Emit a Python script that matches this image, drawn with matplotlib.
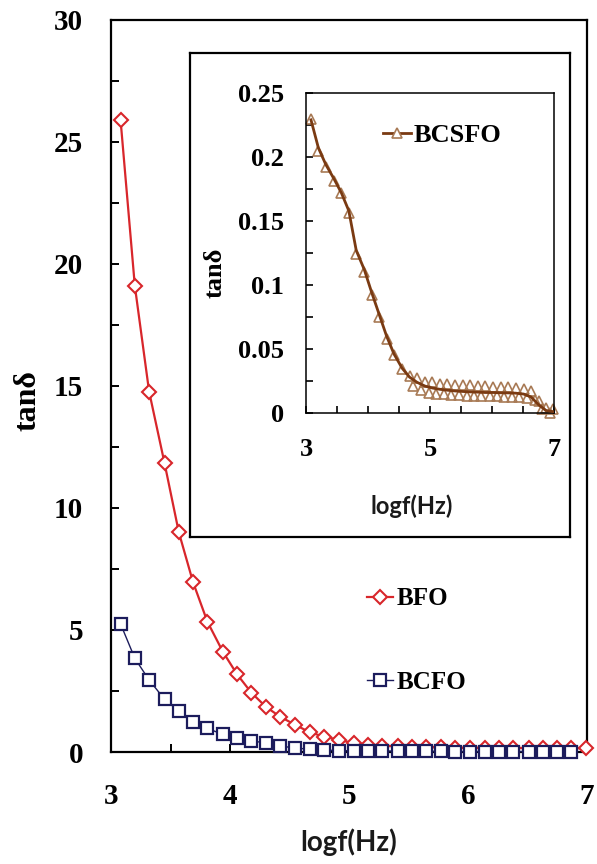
import matplotlib
matplotlib.use("Agg")
import matplotlib.pyplot as plt
from matplotlib.lines import Line2D
from matplotlib.ticker import MultipleLocator, FixedLocator, FuncFormatter

plt.rcParams['font.family'] = ['Liberation Serif', 'DejaVu Serif']
plt.rcParams['font.weight'] = 'bold'

# ---- data -------------------------------------------------------------
logf = [3.08, 3.20, 3.32, 3.45, 3.57, 3.69, 3.81, 3.94, 4.06, 4.18, 4.30,
        4.42, 4.55, 4.67, 4.79, 4.92, 5.04, 5.16, 5.28, 5.41, 5.53, 5.65,
        5.77, 5.89, 6.02, 6.14, 6.26, 6.38, 6.51, 6.63, 6.75, 6.87, 6.99]

tan_bfo = [25.9, 19.1, 14.77, 11.83, 9.0, 6.95, 5.34, 4.11, 3.18, 2.43, 1.86,
           1.45, 1.11, 0.81, 0.63, 0.50, 0.36, 0.30, 0.26, 0.23, 0.21, 0.20,
           0.19, 0.18, 0.18, 0.17, 0.17, 0.17, 0.16, 0.16, 0.16, 0.16, 0.16]

tan_bcfo = [5.25, 3.84, 2.95, 2.16, 1.68, 1.24, 0.97, 0.72, 0.56, 0.45, 0.38,
            0.25, 0.16, 0.12, 0.08, 0.06, 0.05, 0.05, 0.04, 0.04, 0.03, 0.03,
            0.03, 0.02, 0.02, 0.02, 0.02, 0.02, 0.02, 0.02, 0.02, 0.02]

# BCSFO: smoothed curve and measured points
tan_bcsfo_curve = [0.229, 0.207, 0.194, 0.183, 0.172, 0.158, 0.127, 0.112,
                   0.094, 0.077, 0.060, 0.046, 0.035, 0.028, 0.024, 0.021,
                   0.0195, 0.0185, 0.0178, 0.0172, 0.0168, 0.0165, 0.0163,
                   0.016, 0.016, 0.0158, 0.0157, 0.0155, 0.0148, 0.0125,
                   0.0065, 0.002, 0.001]

bcsfo_x = [3.08, 3.20, 3.32, 3.45, 3.57, 3.69, 3.81, 3.94, 4.06, 4.18, 4.30,
           4.42, 4.55, 4.67, 4.79, 4.92, 5.04, 5.16, 5.28, 5.41, 5.53, 5.65,
           5.77, 5.89, 6.02, 6.14, 6.26, 6.38, 6.51, 6.63, 6.75, 6.87, 6.99,
           4.73, 4.86, 4.98, 5.10, 5.22, 5.34, 5.47, 5.59, 5.71, 5.83, 5.96,
           6.08, 6.20, 6.32, 6.44, 6.57, 6.69, 6.81, 6.93]
bcsfo_y = [0.230, 0.205, 0.192, 0.181, 0.172, 0.156, 0.124, 0.110, 0.092,
           0.075, 0.058, 0.045, 0.034, 0.029, 0.027, 0.0245, 0.024, 0.023,
           0.0225, 0.022, 0.022, 0.0215, 0.021, 0.021, 0.0205, 0.020, 0.020,
           0.0195, 0.019, 0.017, 0.009, 0.004, 0.003,
           0.021, 0.018, 0.016, 0.015, 0.0145, 0.014, 0.014, 0.0135, 0.0135,
           0.013, 0.013, 0.013, 0.0128, 0.0125, 0.0125, 0.012, 0.010, 0.003,
           0.0]

main_yticks = [0, 5, 10, 15, 20, 25, 30]
main_xticks = [3, 4, 5, 6, 7]
inset_yticks = [0, 0.05, 0.1, 0.15, 0.2, 0.25]
inset_xticks = [3, 5, 7]

# ---- styling ------------------------------------------------------------
RED = '#d8262b'
NAVY = '#1c1c5c'
BROWN = '#7a3a12'
TAN = '#a87a55'
LABEL_FONT = dict(family=['Lato', 'DejaVu Sans'], weight='bold', color='#1a1a1a')

fig = plt.figure(figsize=(5.97, 8.64), dpi=100)

# main axes
ax = fig.add_axes([0.186, 0.1296, 0.797, 0.8474])
ax.plot(logf, tan_bfo, color=RED, lw=1.6, marker='D', ms=7.2, mfc='white',
        mec=RED, mew=1.5, clip_on=False, zorder=3, label='BFO')
ax.plot(logf[:len(tan_bcfo)], tan_bcfo, color=NAVY, lw=1.0, marker='s', ms=9,
        mfc='white', mec=NAVY, mew=1.6, clip_on=False, zorder=4, label='BCFO')

ax.set_xlim(3, 7)
ax.set_ylim(0, 30)
ax.yaxis.set_major_locator(FixedLocator(main_yticks))
ax.yaxis.set_minor_locator(MultipleLocator(2.5))
ax.xaxis.set_major_locator(FixedLocator(main_xticks))
ax.xaxis.set_minor_locator(MultipleLocator(0.5))
ax.tick_params(which='both', direction='in', length=6, width=1.4,
               top=False, right=False)
ax.tick_params(axis='y', which='major', labelsize=21, pad=20)
ax.tick_params(axis='x', which='major', labelsize=21, pad=22)
for s in ax.spines.values():
    s.set_linewidth(1.6)
for lab in ax.get_xticklabels() + ax.get_yticklabels():
    lab.set_fontweight('bold')

ax.set_ylabel('tanδ', fontsize=23, fontweight='bold')
ax.yaxis.set_label_coords(-0.145, 0.48)
ax.set_xlabel('logf(Hz)', fontsize=20, **LABEL_FONT)
ax.xaxis.set_label_coords(0.5, -0.104)

ax.legend(loc='upper left', bbox_to_anchor=(0.538, 0.225), frameon=False,
          borderpad=0, borderaxespad=0, handlelength=1.05, handletextpad=0.15,
          labelspacing=2.42, prop=dict(size=18, weight='bold'))

# framed box holding the inset
frame = fig.add_axes([0.318, 0.3785, 0.637, 0.5602])
frame.set_xticks([])
frame.set_yticks([])
frame.set_facecolor('white')
for s in frame.spines.values():
    s.set_linewidth(1.6)

# inset axes
ins = fig.add_axes([0.5126, 0.522, 0.4154, 0.3704])
ins.plot(logf, tan_bcsfo_curve, color=BROWN, lw=2.0, zorder=3)
ins.plot(bcsfo_x, bcsfo_y, ls='none', marker='^', ms=7.5, mfc='none',
         mec=TAN, mew=1.2, clip_on=False, zorder=2)
ins.set_xlim(3, 7)
ins.set_ylim(0, 0.25)
ins.yaxis.set_major_locator(FixedLocator(inset_yticks))
ins.yaxis.set_minor_locator(MultipleLocator(0.025))
ins.xaxis.set_major_locator(FixedLocator(inset_xticks))
ins.xaxis.set_minor_locator(MultipleLocator(0.5))
ins.yaxis.set_major_formatter(FuncFormatter(lambda v, p: '%g' % round(v, 3)))
ins.tick_params(which='both', direction='in', length=5, width=1.2,
                top=False, right=False)
ins.tick_params(axis='y', which='major', labelsize=19, pad=16)
ins.tick_params(axis='x', which='major', labelsize=19, pad=18)
for s in ins.spines.values():
    s.set_linewidth(1.1)
for lab in ins.get_xticklabels() + ins.get_yticklabels():
    lab.set_fontweight('bold')
ins.set_ylabel('tanδ', fontsize=19, fontweight='bold')
ins.yaxis.set_label_coords(-0.319, 0.4375)
ins.set_xlabel('logf(Hz)', fontsize=17, **LABEL_FONT)
ins.xaxis.set_label_coords(0.425, -0.253)

bcsfo_handle = Line2D([], [], color=BROWN, lw=2.0, marker='^', ms=7.5,
                      mfc='white', mec=TAN, mew=1.2)
ins.legend([bcsfo_handle], ['BCSFO'], loc='upper left',
           bbox_to_anchor=(0.31, 0.905), frameon=False, borderpad=0,
           borderaxespad=0, handlelength=1.05, handletextpad=0.1,
           prop=dict(size=19, weight='bold'))

fig.savefig('out.png', dpi=100)
